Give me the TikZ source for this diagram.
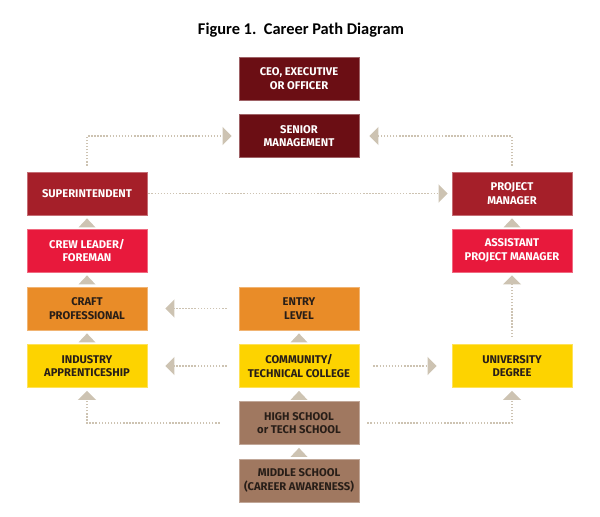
\documentclass[tikz,border=0pt]{standalone}
\usepackage{fontspec}
\setmainfont{Fira Sans}
\newfontfamily\titlefont{Carlito}
\usetikzlibrary{calc,arrows.meta}

\definecolor{ceored}{RGB}{107,14,20}
\definecolor{leadred}{RGB}{165,31,41}
\definecolor{crewred}{RGB}{232,25,60}
\definecolor{craftorange}{RGB}{233,140,40}
\definecolor{schoolyellow}{RGB}{253,211,0}
\definecolor{schoolbrown}{RGB}{160,120,96}
\definecolor{inkdark}{RGB}{40,30,24}
\definecolor{tipcol}{RGB}{205,195,178}

\begin{document}
\begin{tikzpicture}[x=0.75pt, y=-0.75pt,
	box/.style={fill=#1, draw=#1!65!white, line width=0.6pt, minimum width=90pt,
		minimum height=32.25pt, inner sep=0pt, align=center,
		font=\fontsize{8.4}{10}\selectfont\bfseries},
	light/.style={box=#1, text=white},
	dark/.style={box=#1, text=inkdark},
	route/.style={draw=tipcol, line width=1.1pt, dash pattern=on 1.1pt off 1.2pt,
		-{Triangle[width=13.5pt,length=6.75pt]}}]
	\useasboundingbox (0,0) rectangle (600,517);
	\node (title) at (301,30) {\titlefont\fontsize{12.3}{14}\selectfont\bfseries Figure 1.\ \ Career Path Diagram};

	% top of the ladder
	\node[light=ceored] (ceo) at (299,78.5) {CEO, EXECUTIVE\\OR OFFICER};
	\node[light=ceored] (senior) at (299,136) {SENIOR\\MANAGEMENT};

	% craft side
	\node[light=leadred] (super) at (87,193.5) {SUPERINTENDENT};
	\node[light=crewred] (crew) at (87,250.5) {CREW LEADER/\\FOREMAN};
	\node[dark=craftorange] (craft) at (87,308.5) {CRAFT\\PROFESSIONAL};
	\node[dark=schoolyellow] (industry) at (87,366) {INDUSTRY\\APPRENTICESHIP};

	% middle column
	\node[dark=craftorange] (entry) at (299,308.5) {ENTRY\\LEVEL};
	\node[dark=schoolyellow] (college) at (299,366) {COMMUNITY/\\TECHNICAL COLLEGE};
	\node[dark=schoolbrown] (highschool) at (299,423) {HIGH SCHOOL\\or TECH SCHOOL};
	\node[dark=schoolbrown] (middle) at (299,480.5) {MIDDLE SCHOOL\\(CAREER AWARENESS)};

	% management side
	\node[light=leadred] (pm) at (512,193.5) {PROJECT\\MANAGER};
	\node[light=crewred] (apm) at (512,250.5) {ASSISTANT\\PROJECT MANAGER};
	\node[dark=schoolyellow] (university) at (512,366) {UNIVERSITY\\DEGREE};

	% steps straight up
	\fill[tipcol] ($(super.south)+(0,3)$) -- ++(8.5,9) -- ++(-17,0) -- cycle;
	\fill[tipcol] ($(crew.south)+(0,3)$) -- ++(8.5,9) -- ++(-17,0) -- cycle;
	\fill[tipcol] ($(craft.south)+(0,3)$) -- ++(8.5,9) -- ++(-17,0) -- cycle;
	\fill[tipcol] ($(entry.south)+(0,3)$) -- ++(8.5,9) -- ++(-17,0) -- cycle;
	\fill[tipcol] ($(college.south)+(0,3)$) -- ++(8.5,9) -- ++(-17,0) -- cycle;
	\fill[tipcol] ($(highschool.south)+(0,3)$) -- ++(8.5,9) -- ++(-17,0) -- cycle;
	\fill[tipcol] ($(pm.south)+(0,3)$) -- ++(8.5,9) -- ++(-17,0) -- cycle;

	% dotted moves
	\draw[route, shorten <=4.5pt, shorten >=5.25pt] (super.north) |- (senior.west);
	\draw[route, shorten <=4.5pt, shorten >=7.5pt] (pm.north) |- (senior.east);
	\draw[route, shorten <=0.75pt, shorten >=3pt] (super.east) -- (pm.west);
	\draw[route, shorten <=9pt, shorten >=13.5pt] (entry.west) -- (craft.east);
	\draw[route, shorten <=9pt, shorten >=13.5pt] (college.west) -- (industry.east);
	\draw[route, shorten <=10.5pt, shorten >=11.25pt] (college.east) -- (university.west);
	\draw[route, shorten <=5.25pt, shorten >=2.25pt] (university.north) -- (apm.south);
	\draw[route, shorten <=14.25pt, shorten >=2.25pt] (highschool.west) -| (industry.south);
	\draw[route, shorten <=6pt, shorten >=2.25pt] (highschool.east) -| (university.south);
\end{tikzpicture}
\end{document}
